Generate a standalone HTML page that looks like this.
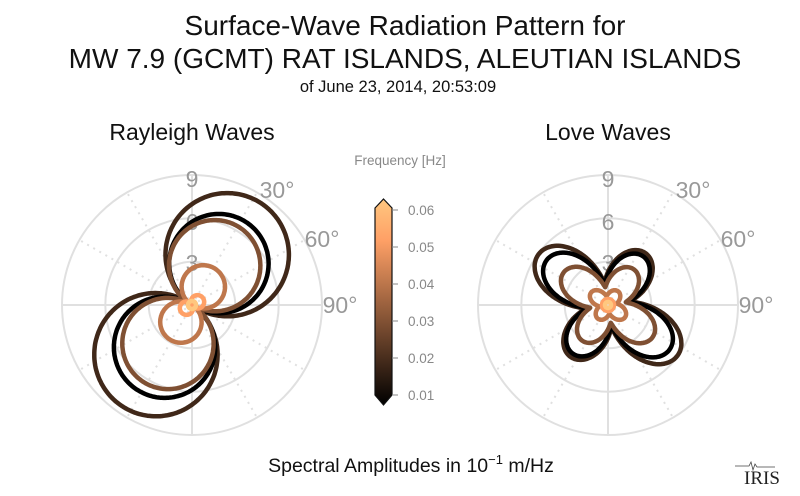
<!DOCTYPE html>
<html><head><meta charset="utf-8"><style>
html,body{margin:0;padding:0;background:#fff;}
svg{display:block;font-family:"Liberation Sans",sans-serif;}
</style></head><body>
<svg id="s" width="800" height="496" viewBox="0 0 800 496" xmlns="http://www.w3.org/2000/svg">
<defs><linearGradient id="cu" x1="0" y1="1" x2="0" y2="0">
<stop offset="0" stop-color="#000"/><stop offset="0.8" stop-color="#ffa066"/><stop offset="1" stop-color="#ffc77f"/>
</linearGradient></defs>
<text x="405" y="35" font-size="28" text-anchor="middle" fill="#111">Surface-Wave Radiation Pattern for</text>
<text x="405" y="68" font-size="28" text-anchor="middle" fill="#111">MW 7.9 (GCMT) RAT ISLANDS, ALEUTIAN ISLANDS</text>
<text x="398" y="92" font-size="16.5" text-anchor="middle" fill="#111">of June 23, 2014, 20:53:09</text>
<text x="192" y="140" font-size="23" text-anchor="middle" fill="#111">Rayleigh Waves</text>
<text x="608" y="140" font-size="23" text-anchor="middle" fill="#111">Love Waves</text>
<text x="411" y="472" font-size="19.5" text-anchor="middle" fill="#111">Spectral Amplitudes in 10<tspan dy="-8" font-size="13">−1</tspan><tspan dy="8"> m/Hz</tspan></text>
<text x="400" y="165" font-size="13.5" text-anchor="middle" fill="#888">Frequency [Hz]</text>
<path d="M375 208 L383.5 199 L392 208 L392 395 L383.5 405 L375 395 Z" fill="url(#cu)" stroke="#111" stroke-width="1.2"/>
<g id="cb" font-size="13.5" fill="#888"></g>
<g id="g"></g>
<text x="762" y="484" font-size="19" font-family="Liberation Serif,serif" text-anchor="middle" fill="#222">IRIS</text>
<path d="M735 466 h14 l2 -4 l2 8 l2 -6 l2 3 h18" stroke="#444" fill="none" stroke-width="0.8"/>
</svg>
<script>
var g=document.getElementById('g'),cb=document.getElementById('cb'),h='';
for(var i=0;i<6;i++){var y=395-i*37;cb.innerHTML+='<line x1="392" y1="'+y+'" x2="398" y2="'+y+'" stroke="#888"/><text x="408" y="'+(y+5)+'">0.0'+(i+1)+'</text>';}
function grid(cx,cy){var s='';
 [43.3,86.7,130].forEach(function(r){s+='<circle cx="'+cx+'" cy="'+cy+'" r="'+r+'" fill="none" stroke="#e0e0e0" stroke-width="2"/>';});
 for(var a=0;a<360;a+=30){var t=a*Math.PI/180,x=cx+130*Math.sin(t),y=cy-130*Math.cos(t);
  s+='<line x1="'+cx+'" y1="'+cy+'" x2="'+x.toFixed(1)+'" y2="'+y.toFixed(1)+'" stroke="#e0e0e0" stroke-width="2" '+(a%90?'stroke-dasharray="2,5"':'')+'/>';}
 var f='font-size="23" fill="#999" text-anchor="middle"';
 s+='<text x="'+cx+'" y="'+(cy-118)+'" '+f+'>9</text>';
 s+='<text x="'+cx+'" y="'+(cy-75)+'" '+f+'>6</text>';
 s+='<text x="'+cx+'" y="'+(cy-34)+'" '+f+'>3</text>';
 s+='<text x="'+(cx+85)+'" y="'+(cy-107)+'" '+f+'>30°</text>';
 s+='<text x="'+(cx+130)+'" y="'+(cy-58)+'" '+f+'>60°</text>';
 s+='<text x="'+(cx+148)+'" y="'+(cy+8)+'" '+f+'>90°</text>';
 return s;}
h+=grid(192,305)+grid(608,305);
function curve(cx,cy,f,col){var p='';for(var i=0;i<=360;i++){var t=i*Math.PI/180,r=f(t);
 p+=(i?'L':'M')+(cx+r*Math.sin(t)).toFixed(1)+' '+(cy-r*Math.cos(t)).toFixed(1);}
 return '<path d="'+p+'Z" fill="none" stroke="'+col+'" stroke-width="4.5" stroke-linejoin="round"/>';}
var C=['#000','#402819','#7f5033','#bf774c','#ffa066','#ffc77f'];
function ray(a,b,pa,pb){return function(t){var c1=a*Math.cos(t-pa),c2=b*Math.cos(t-pb);return Math.max(c1,c2,0)+1;};}
var d=Math.PI/180;
var R=[[ray(122,122,35*d,216*d),C[1]],[ray(98,100,33*d,213*d),C[0]],[ray(90,90,30*d,212*d),C[2]],[ray(42,40,32*d,213*d),C[3]],[ray(12,12,60*d,240*d),C[4]],[function(){return 4;},C[5]]];
R.forEach(function(x){h+=curve(192,305,x[0],x[1]);});
function love(rmin,a,b,ph){return function(t){var c=Math.abs(Math.cos(2*(t-ph))),s=Math.cos(t-ph);var big=(Math.abs(s)<Math.SQRT1_2)?b:a;return rmin+(big-rmin)*Math.pow(c,1.2);};}
var L=[[love(23,64,86,36*d),C[1]],[love(21,60,76,36*d),C[0]],[love(18,44,55,36*d),C[2]],[love(9,17,21,36*d),C[3]],[function(){return 6;},C[4]],[function(){return 3;},C[5]]];
L.forEach(function(x){h+=curve(608,305,x[0],x[1]);});
g.innerHTML=h;
</script>
</body></html>
